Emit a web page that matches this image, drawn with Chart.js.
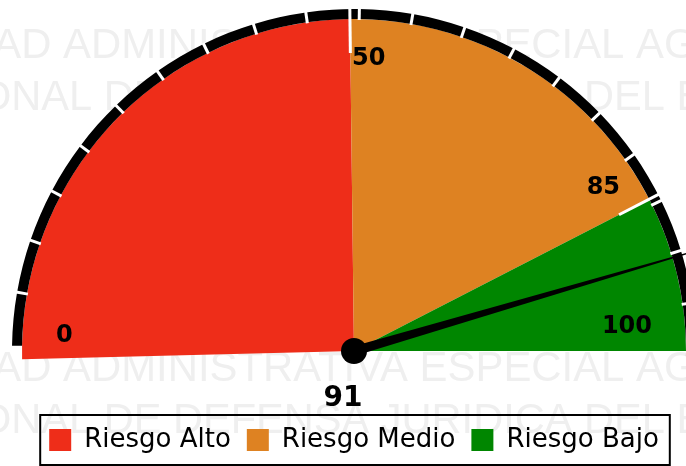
<!DOCTYPE html>
<html>
<head>
<meta charset="utf-8">
<script src="https://cdn.jsdelivr.net/npm/chart.js@4.4.1/dist/chart.umd.min.js"></script>
<style>
  html, body { margin: 0; padding: 0; background: #fff; overflow: hidden; }
  #wrap { position: relative; width: 686px; height: 466px; }
</style>
</head>
<body>
<div id="wrap"><canvas id="chart" width="686" height="466"></canvas></div>
<script>
// gauge data
const categories = ["Riesgo Alto", "Riesgo Medio", "Riesgo Bajo"];
const bandSizes = [50, 35, 15];
const bandColors = ["#EE2D19", "#DE8222", "#008600"];
const scaleSteps = [5, 5, 5, 5, 5, 5, 5, 5, 5, 5, 5, 5, 5, 5, 5, 5, 5, 5, 5, 5];
const tickValues = [0, 50, 85, 100];
const tickLabels = ["0", "50", "85", "100"];
const needleValue = 91;
const watermarkLines = [
  "UNIDAD ADMINISTRATIVA ESPECIAL AGENCIA",
  "NACIONAL DE DEFENSA JURIDICA DEL ESTADO",
];

const deg = Math.PI / 180;

const gaugePlugin = {
  id: "gaugeExtras",

  beforeDraw(chart, args, opts) {
    const ctx = chart.ctx;
    ctx.save();
    ctx.fillStyle = opts.watermarkColor;
    ctx.font = "43px 'Liberation Sans', Arial, sans-serif";
    ctx.textBaseline = "alphabetic";
    opts.watermarkRows.forEach((baseline, i) => {
      const text = watermarkLines[i % 2];
      const fit = opts.watermarkFit[i % 2];
      // stretch the line so two of its words land where they sit in the picture
      const w1 = ctx.measureText(text.slice(0, text.indexOf(fit[0]))).width;
      const w2 = ctx.measureText(text.slice(0, text.indexOf(fit[2]))).width;
      const s = (fit[3] - fit[1]) / (w2 - w1);
      ctx.save();
      ctx.translate(fit[1] - s * w1, 0);
      ctx.scale(s, 1);
      ctx.fillText(text, 0, baseline);
      ctx.restore();
    });
    ctx.restore();
  },

  afterDatasetsDraw(chart, args, opts) {
    const ctx = chart.ctx;
    const ring = chart.getDatasetMeta(0).data;
    const bands = chart.getDatasetMeta(1).data;
    const cx = bands[0].x;
    const cy = bands[0].y;
    const start = bands[0].startAngle;
    const end = bands[bands.length - 1].endAngle;
    const total = bandSizes.reduce((a, b) => a + b, 0);
    const toAngle = (v) => start + (v / total) * (end - start);

    ctx.save();
    ctx.strokeStyle = "#fff";
    ctx.lineWidth = 3;

    // small white marks on the black scale ring
    for (let i = 1; i < ring.length; i++) {
      const a = ring[i].startAngle;
      const r0 = ring[i].innerRadius - 1;
      const r1 = ring[i].outerRadius + 1;
      ctx.beginPath();
      ctx.moveTo(ring[i].x + r0 * Math.cos(a), ring[i].y + r0 * Math.sin(a));
      ctx.lineTo(ring[i].x + r1 * Math.cos(a), ring[i].y + r1 * Math.sin(a));
      ctx.stroke();
    }

    // long marks at the band limits
    const outer = ring[0].outerRadius + 1;
    for (let i = 1; i < bands.length; i++) {
      const a = bands[i].startAngle;
      ctx.beginPath();
      ctx.moveTo(cx + opts.majorInner * Math.cos(a), cy + opts.majorInner * Math.sin(a));
      ctx.lineTo(cx + outer * Math.cos(a), cy + outer * Math.sin(a));
      ctx.stroke();
    }

    // tick labels
    ctx.fillStyle = "#000";
    ctx.font = "bold 24px 'DejaVu Sans', sans-serif";
    ctx.textAlign = "center";
    ctx.textBaseline = "middle";
    tickValues.forEach((v, i) => {
      const place = opts.labelPlacement[i];
      const a = toAngle(v) + place.turn * deg;
      ctx.fillText(tickLabels[i], cx + place.r * Math.cos(a), cy + place.r * Math.sin(a));
    });

    // needle
    const na = toAngle(needleValue);
    const len = opts.needleLength;
    const px = -Math.sin(na);
    const py = Math.cos(na);
    const tipX = cx + len * Math.cos(na);
    const tipY = cy + len * Math.sin(na);
    ctx.beginPath();
    ctx.moveTo(cx + px * 4.8, cy + py * 4.8);
    ctx.lineTo(tipX + px * 0.6, tipY + py * 0.6);
    ctx.lineTo(tipX - px * 0.6, tipY - py * 0.6);
    ctx.lineTo(cx - px * 4.8, cy - py * 4.8);
    ctx.closePath();
    ctx.fill();
    ctx.beginPath();
    ctx.arc(cx, cy, 13, 0, Math.PI * 2);
    ctx.fill();

    // value below the pivot
    ctx.font = "bold 28px 'DejaVu Sans', sans-serif";
    ctx.fillText(String(needleValue), chart.width / 2, cy + 48);
    ctx.restore();
  },

  afterDraw(chart) {
    const hb = chart.legend.legendHitBoxes;
    if (!hb || !hb.length) return;
    const last = hb[hb.length - 1];
    const left = hb[0].left - 9;
    const right = last.left + last.width + 11;
    const top = hb[0].top + hb[0].height / 2 - 25;
    const ctx = chart.ctx;
    ctx.save();
    ctx.strokeStyle = "#000";
    ctx.lineWidth = 2;
    ctx.strokeRect(left, top, right - left, 50);
    ctx.restore();
  },
};

new Chart(document.getElementById("chart"), {
  type: "doughnut",
  data: {
    labels: categories,
    datasets: [
      {
        data: scaleSteps,
        backgroundColor: "#000",
        borderWidth: 0,
        weight: 10,
        rotation: -89.1,
        circumference: 180,
        clip: false,
      },
      {
        data: bandSizes,
        backgroundColor: bandColors,
        borderWidth: 0,
        weight: 332,
        rotation: -91.4,
        circumference: 181.4,
        clip: false,
      },
    ],
  },
  options: {
    responsive: false,
    animation: false,
    radius: 342,
    cutout: 0,
    events: [],
    layout: { padding: { left: 22, right: 0, top: 0, bottom: 3 } },
    plugins: {
      tooltip: { enabled: false },
      // empty block that keeps room for the value under the pivot
      title: {
        display: true,
        position: "bottom",
        text: "",
        weight: 500,
        font: { size: 10, lineHeight: 1 },
        padding: { top: 32.6, bottom: 0 },
      },
      legend: {
        position: "bottom",
        labels: {
          boxWidth: 22,
          boxHeight: 22,
          padding: 16,
          color: "#000",
          font: { family: "'DejaVu Sans', sans-serif", size: 26 },
          generateLabels: (chart) => {
            const ds = chart.data.datasets[1];
            return chart.data.labels.map((text, i) => ({
              text,
              fillStyle: ds.backgroundColor[i],
              strokeStyle: ds.backgroundColor[i],
              lineWidth: 0,
              hidden: false,
              index: i,
            }));
          },
        },
      },
      gaugeExtras: {
        watermarkColor: "#efefef",
        watermarkRows: [58, 110, 381, 433],
        watermarkFit: [
          ["ADMINISTRATIVA", 63, "AGENCIA", 636],
          ["DEFENSA", 173, "DEL", 584],
        ],
        majorInner: 298,
        needleLength: 352,
        labelPlacement: [
          { turn: 4.4, r: 290 },
          { turn: 3.6, r: 293 },
          { turn: -6, r: 298 },
          { turn: -5, r: 274 },
        ],
      },
    },
  },
  plugins: [gaugePlugin],
});
</script>
</body>
</html>
